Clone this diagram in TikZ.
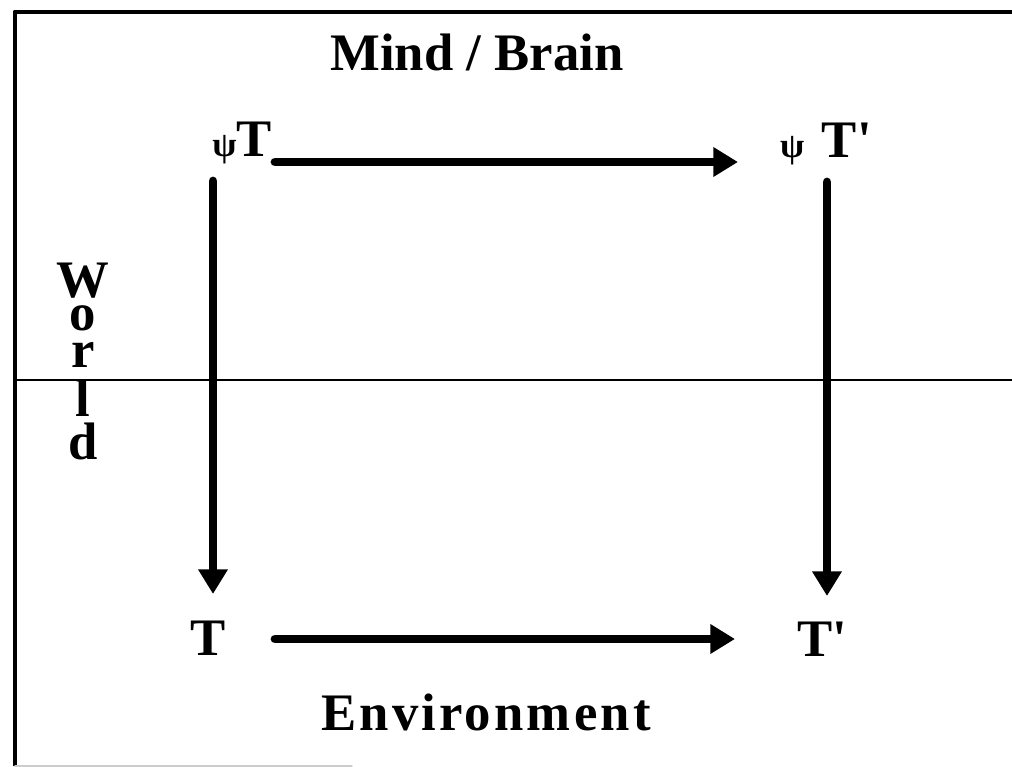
\documentclass[tikz,border=0pt]{standalone}
\usepackage{fontspec}
\setmainfont{Liberation Serif}
\usetikzlibrary{arrows.meta}
\newcommand{\psisym}{{\fontsize{10}{10}\selectfont ψ}}
\begin{document}
\begin{tikzpicture}[font=\bfseries\fontsize{15}{18}\selectfont, line join=round, line cap=round,
  >={Triangle[length=7pt,width=8pt]},
  lbl/.style={anchor=base, inner sep=0pt},
  fat/.style={line width=2.5pt, ->}]
	\useasboundingbox (0,0) rectangle (10.12,7.67);
	% frame
	\coordinate (F0) at (0.15,0.01);
	\coordinate (F1) at (0.15,7.55);
	\coordinate (F2) at (10.12,7.55);
	\coordinate (F3) at (3.52,0.01);
	\draw[line width=1.4pt, line cap=butt] (F0)--(F1)--(F2);
	\draw[line width=0.4pt, gray!40] (F0)--(F3);
	% world line
	\coordinate (W0) at (0.15,3.87);
	\coordinate (W1) at (10.12,3.87);
	\draw[line width=0.6pt] (W0)--(W1);
	% labels
	\node[lbl] (mind) at (4.77,6.97) {Mind / Brain};
	\node[lbl] (env) at (4.86,0.37) {\addfontfeature{LetterSpace=6}Environment};
	\node[lbl] (psiT) at (2.42,6.10) {\psisym T};
	\node[lbl] (psiTp) at (8.26,6.09) {\psisym\hspace{5pt}T\textquotesingle};
	\node[lbl] (T) at (2.08,1.12) {T};
	\node[lbl] (Tp) at (8.22,1.10) {T\textquotesingle};
	\foreach \ch/\y [count=\i] in {W/4.69, o/4.37, r/3.99, l/3.50, d/3.07}
		\node[lbl] (world\i) at (0.83,\y) {\ch};
	% arrows
	\coordinate (a1) at (2.75,6.05);
	\coordinate (a2) at (7.38,6.05);
	\coordinate (b1) at (2.75,1.28);
	\coordinate (b2) at (7.35,1.28);
	\coordinate (c1) at (2.13,5.86);
	\coordinate (c2) at (2.13,1.73);
	\coordinate (d1) at (8.27,5.85);
	\coordinate (d2) at (8.27,1.71);
	\draw[fat] (a1)--(a2);
	\draw[fat] (b1)--(b2);
	\draw[fat] (c1)--(c2);
	\draw[fat] (d1)--(d2);
\end{tikzpicture}
\end{document}
